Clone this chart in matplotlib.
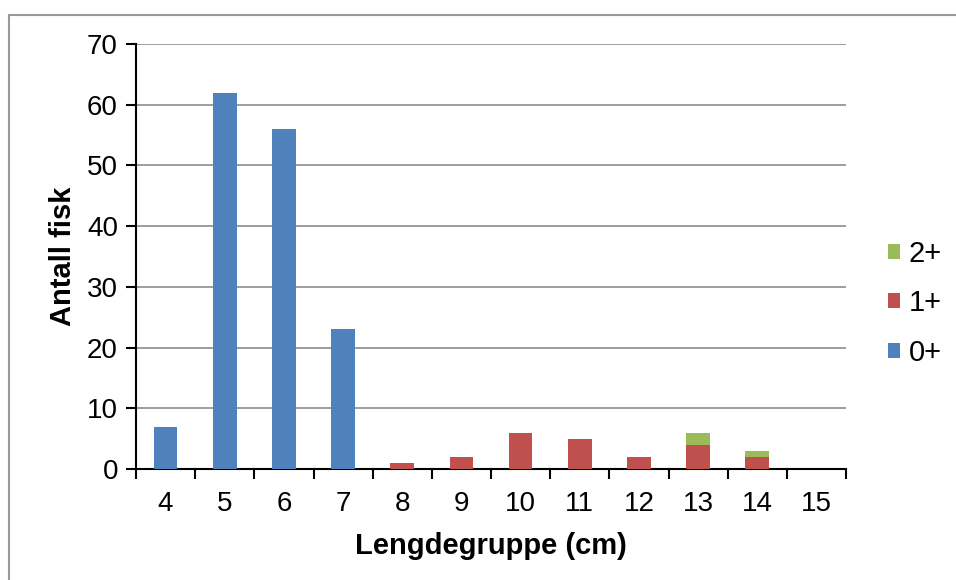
import matplotlib
matplotlib.use("Agg")
import matplotlib.pyplot as plt
from matplotlib.patches import Rectangle
import numpy as np

plt.rcParams['font.family'] = ['Liberation Sans', 'DejaVu Sans']

categories = ["4", "5", "6", "7", "8", "9", "10", "11", "12", "13", "14", "15"]
age0 = [7, 62, 56, 23, 0, 0, 0, 0, 0, 0, 0, 0]
age1 = [0, 0, 0, 0, 1, 2, 6, 5, 2, 4, 2, 0]
age2 = [0, 0, 0, 0, 0, 0, 0, 0, 0, 2, 1, 0]
series_labels = ["0+", "1+", "2+"]
colors = ["#4F81BD", "#C0504D", "#9BBB59"]

fig = plt.figure(figsize=(9.56, 5.8), dpi=100)
fig.patches.append(Rectangle((9 / 956, -0.05), 1.1, 1 - 15 / 580 + 0.05,
                             transform=fig.transFigure, fill=False,
                             edgecolor="#9a9a9a", linewidth=1.5))

ax = fig.add_axes([136 / 956, 1 - 469 / 580, (846 - 136) / 956, (469 - 44) / 580])

x = np.arange(len(categories))
w = 0.4
b0 = ax.bar(x, age0, w, color=colors[0], label=series_labels[0], zorder=3)
b1 = ax.bar(x, age1, w, bottom=age0, color=colors[1], label=series_labels[1], zorder=3)
bottom2 = np.array(age0) + np.array(age1)
b2 = ax.bar(x, age2, w, bottom=bottom2, color=colors[2], label=series_labels[2], zorder=3)

ax.set_xlim(-0.5, len(categories) - 0.5)
ax.set_ylim(0, 70)
ax.set_yticks(range(0, 71, 10))
ax.yaxis.grid(True, color="#8c8c8c", linewidth=1.2, zorder=0)
ax.set_axisbelow(True)

ax.set_xticks(x)
ax.set_xticklabels(categories)
ax.set_xticks(np.arange(-0.5, len(categories)), minor=True)
ax.tick_params(axis="x", which="major", length=0, pad=16, labelsize=20)
ax.tick_params(axis="x", which="minor", length=7, width=1.5, direction="out")
ax.tick_params(axis="y", length=7, width=1.5, direction="out", pad=6, labelsize=20)

for s in ["top", "right"]:
    ax.spines[s].set_visible(False)
for s in ["left", "bottom"]:
    ax.spines[s].set_linewidth(1.5)
    ax.spines[s].set_color("black")

ax.set_xlabel("Lengdegruppe (cm)", fontsize=21, fontweight="bold", labelpad=11)
ax.set_ylabel("Antall fisk", fontsize=21, fontweight="bold", labelpad=7)

handles = [b2, b1, b0]
leg = ax.legend(handles, [series_labels[2], series_labels[1], series_labels[0]],
                loc="center left", bbox_to_anchor=((888 - 136) / 710, 0.39),
                borderaxespad=0, borderpad=0, frameon=False,
                fontsize=21, handlelength=0.4, handleheight=0.4,
                handletextpad=0.3, labelspacing=0.74)

fig.savefig("out.png", dpi=100)
